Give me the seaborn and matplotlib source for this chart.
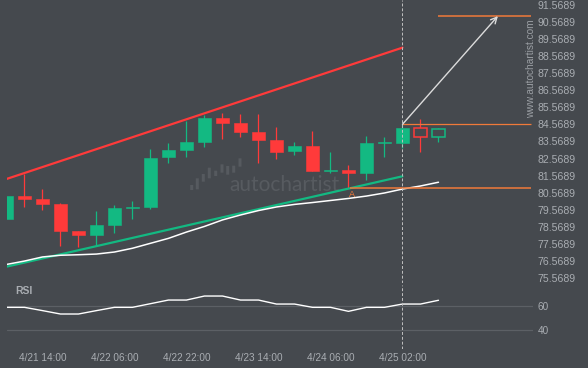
import numpy as np
import matplotlib
matplotlib.use("Agg")
import matplotlib.pyplot as plt
from matplotlib.patches import FancyBboxPatch
import seaborn as sns

# --- data (4h candles, index 0..24) ---
OPEN = [79.04, 80.37, 80.20, 79.90, 78.32, 78.09, 78.69, 79.69, 79.73, 82.68, 83.09, 83.56, 84.95,
        84.65, 84.13, 83.66, 83.03, 83.30, 81.84, 81.90, 81.74, 83.50, 83.50, 84.36, 83.85]
HIGH = [80.37, 81.66, 80.77, 79.96, 78.32, 79.49, 79.83, 80.08, 83.11, 83.46, 84.75, 85.12, 85.26,
        85.18, 85.18, 84.40, 83.54, 84.17, 82.94, 82.17, 83.89, 83.85, 84.58, 84.89, 84.38]
LOW = [79.04, 79.75, 79.57, 77.46, 77.40, 77.44, 78.22, 79.01, 79.59, 82.29, 82.68, 83.23, 83.70,
       83.85, 82.29, 82.52, 82.76, 81.82, 81.70, 80.83, 81.31, 82.64, 83.17, 82.97, 83.56]
CLOSE = [80.37, 80.20, 79.92, 78.34, 78.11, 78.67, 79.69, 79.72, 82.60, 83.07, 83.54, 84.95, 84.65,
         84.14, 83.67, 82.97, 83.30, 81.86, 81.88, 81.74, 83.46, 83.54, 84.36, 83.85, 84.30]
N_HIST = 23  # last two candles are the hollow (projected) ones

MA = [76.36, 76.56, 76.80, 76.90, 76.93, 76.97, 77.09, 77.31, 77.60, 77.89, 78.26, 78.59, 78.97,
      79.26, 79.52, 79.73, 79.88, 79.99, 80.11, 80.23, 80.37, 80.55, 80.78, 80.96, 81.18]
RSI = [58.9, 58.9, 56.2, 53.4, 53.4, 56.2, 58.9, 58.9, 61.9, 64.9, 64.9, 68.2, 68.2,
       64.9, 64.9, 61.6, 61.6, 58.9, 58.9, 55.6, 58.9, 58.9, 61.6, 61.6, 64.7]

CHANNEL_X = [0, 22]
CHANNEL_TOP = [81.37, 89.07]
CHANNEL_BOT = [76.23, 81.53]

RESIST = 84.576
SUPPORT = 80.83
TARGET = 90.92
SUPPORT_START = 19.1
TARGET_START = 24
LINE_END = 29.14
NOW = 22
ARROW_END = (27.3, 90.92)

XTICK_POS = [2, 6, 10, 14, 18, 22]
XTICK_LABELS = ["4/21 14:00", "4/22 06:00", "4/22 22:00", "4/23 14:00", "4/24 06:00", "4/25 02:00"]
PRICE_TICKS = np.arange(75.5689, 92.0, 1.0)
RSI_TICKS = [40, 60]

BG = "#45494e"
GREEN = "#13b982"
RED = "#ff3a3a"
ORANGE = "#f07a3a"
TXT = "#a9adb2"

sns.set_theme(style="dark", rc={"axes.facecolor": BG, "figure.facecolor": BG,
                                "axes.edgecolor": BG, "text.color": TXT,
                                "xtick.color": TXT, "ytick.color": TXT})
plt.rcParams['font.family'] = ['Liberation Sans', 'DejaVu Sans']

fig = plt.figure(figsize=(5.88, 3.68), dpi=100)
W, H = 588, 368
ax = fig.add_axes([7 / W, 1 - 283 / H, 526 / W, 283 / H])
ax_rsi = fig.add_axes([7 / W, 1 - 349 / H, 526 / W, 64 / H])

idx = np.arange(len(OPEN))
o = np.array(OPEN)
c = np.array(CLOSE)
up = c >= o
cols = np.where(up, GREEN, RED)
hist = idx < N_HIST
body_h = np.maximum(np.abs(c - o), 0.03)
body_b = np.minimum(o, c)

# wicks, then bodies
ax.vlines(idx, LOW, HIGH, colors=cols, lw=0.9, zorder=2)
ax.bar(idx[hist], body_h[hist], bottom=body_b[hist], width=0.72, color=cols[hist],
       edgecolor=cols[hist], linewidth=0.4, zorder=3)
ax.bar(idx[~hist], body_h[~hist], bottom=body_b[~hist], width=0.72, facecolor=BG,
       edgecolor=cols[~hist], linewidth=1.1, zorder=3)

# channel + moving average
sns.lineplot(x=CHANNEL_X, y=CHANNEL_TOP, ax=ax, color=RED, lw=1.6, zorder=4)
sns.lineplot(x=CHANNEL_X, y=CHANNEL_BOT, ax=ax, color=GREEN, lw=1.6, zorder=4)
sns.lineplot(x=idx, y=MA, ax=ax, color="white", lw=1.1, zorder=4)

# levels
ax.hlines(RESIST, NOW, LINE_END, color=ORANGE, lw=0.9, zorder=4)
ax.hlines(SUPPORT, SUPPORT_START, LINE_END, color=ORANGE, lw=1.1, zorder=4)
ax.hlines(TARGET, TARGET_START, LINE_END, color=ORANGE, lw=1.1, zorder=4)
ax.text(SUPPORT_START + 0.1, SUPPORT - 0.34, "A", color=ORANGE, fontsize=6.5,
        ha="center", va="center")
ax.annotate("", xy=ARROW_END, xytext=(NOW, RESIST),
            arrowprops=dict(arrowstyle="->", color="#dcdcdc", lw=1.0,
                            mutation_scale=11, shrinkA=0, shrinkB=0), zorder=5)

for a in (ax, ax_rsi):
    a.axvline(NOW, color="#c0c0c0", lw=0.7, ls=(0, (3, 2)), zorder=5)
    a.set_xlim(0.03, 29.25)
    for s in a.spines.values():
        s.set_visible(False)

# watermark
ax.text(0.527, 0.346, "autochartist", transform=ax.transAxes, ha="center", va="center",
        fontsize=15, color="#575b60", family=["Lato", "DejaVu Sans"], zorder=0)
logo = [(191.7, 185, 190), (197.3, 178.3, 189.3), (203.3, 174, 181.7), (209.3, 167.7, 178.3),
        (215.7, 170.7, 176), (222, 164.3, 172.7), (227.7, 166, 174.7), (233.7, 165.7, 172.7),
        (240, 158.3, 166.7)]
for lx, ytop, ybot in logo:
    ax.add_patch(FancyBboxPatch(((lx - 1.5) / W, 1 - ybot / H), 3 / W, (ybot - ytop) / H,
                                boxstyle="round,pad=0", fc="#565a5f", ec="none",
                                transform=fig.transFigure, zorder=1))
ax.text(0.996, 0.756, "www.autochartist.com", transform=ax.transAxes, rotation=90,
        ha="center", va="center", fontsize=7.3, color="#9a9ea3")

# price axis
ax.set_ylim(75.2734, 91.862)
ax.yaxis.tick_right()
ax.set_yticks(PRICE_TICKS)
ax.set_yticklabels([f"{t:.4f}" for t in PRICE_TICKS])
ax.set_xticks([])
ax.tick_params(axis="y", length=0, pad=3.5, labelsize=7.6, labelcolor=TXT)
ax.set_xlabel("")
ax.set_ylabel("")

# RSI pane
sns.lineplot(x=idx, y=RSI, ax=ax_rsi, color="white", lw=1.0, zorder=4)
ax_rsi.set_ylim(24.6, 77.28)
ax_rsi.yaxis.tick_right()
ax_rsi.set_yticks(RSI_TICKS)
ax_rsi.yaxis.grid(True, color="#5c6065", lw=0.9)
ax_rsi.set_xticks(XTICK_POS)
ax_rsi.set_xticklabels(XTICK_LABELS)
ax_rsi.tick_params(axis="both", length=0, labelsize=7.2, labelcolor=TXT)
ax_rsi.tick_params(axis="y", pad=3.5)
ax_rsi.tick_params(axis="x", pad=3)
ax_rsi.set_xlabel("")
ax_rsi.set_ylabel("")
ax_rsi.text(0.0152, 0.906, "RSI", transform=ax_rsi.transAxes, ha="left", va="center",
            fontsize=7.5, fontweight="bold", color=TXT)

fig.savefig("out.png", dpi=100, facecolor=BG)
